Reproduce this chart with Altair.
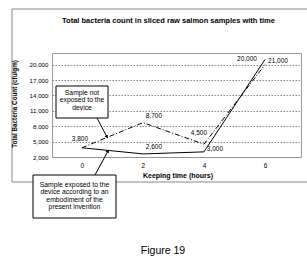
import altair as alt
import pandas as pd

# ---- data ----
hours = [0, 2, 4, 6]
not_exposed = [3800, 8700, 4500, 20000]
exposed = [3800, 2600, 3000, 21000]
y_ticks = [2000, 5000, 8000, 11000, 14000, 17000, 20000]
x_ticks = [0, 2, 4, 6]

title_text = "Total bacteria count in sliced raw salmon samples with time"
x_title = "Keeping time (hours)"
y_title = "Total Bacteria Count (cfu/gm)"
note1 = ["Sample not", "exposed to the", "device"]
note2 = ["Sample exposed to the", "device according to an",
         "embodiment of the", "present invention"]
caption = "Figure 19"

# label offsets (dx, dy) in pixels, style only
off_ne = [(-2, -9), (11, -7), (-5, -11), (-18, -6)]
off_e = [None, (11, -7), (11, -3), (13, 1)]

FONT = "Liberation Sans"
W, H = 249, 104

xscale = alt.Scale(domain=[-0.98, 7.18], nice=False, zero=False)
yscale = alt.Scale(domain=[2000, 22280], nice=False, zero=False)

df_ne = pd.DataFrame({"hour": hours, "value": not_exposed})
df_e = pd.DataFrame({"hour": hours, "value": exposed})

xaxis = alt.Axis(values=x_ticks, grid=False, ticks=False, domain=False,
                 labelPadding=5, title=None, labelFontSize=6.5,
                 labelFont=FONT, labelColor="black")
yaxis = alt.Axis(values=y_ticks, format=",.0f", grid=True, gridDash=[1.5, 1.5],
                 gridColor="#888", ticks=False, domain=False, labelPadding=4,
                 title=None, labelFontSize=6.2, labelFont=FONT,
                 labelColor="black", labelOverlap=False)

def xenc():
    return alt.X("hour:Q", scale=xscale, axis=xaxis)

def yenc():
    return alt.Y("value:Q", scale=yscale, axis=yaxis)

line_ne = alt.Chart(df_ne).mark_line(color="black", strokeWidth=1,
                                     strokeDash=[5, 2, 1, 2]).encode(x=xenc(), y=yenc())
line_e = alt.Chart(df_e).mark_line(color="black", strokeWidth=1).encode(x=xenc(), y=yenc())

layers = []

# outer frame
one = pd.DataFrame({"a": [0]})
frame = alt.Chart(one).mark_rect(fillOpacity=0, stroke="#888", strokeWidth=1).encode(
    x=alt.value(-40), x2=alt.value(280), y=alt.value(-44), y2=alt.value(129))
layers += [line_ne, line_e, frame]

# data labels
def labels(df, offs):
    out = []
    for i, o in enumerate(offs):
        if o is None:
            continue
        d = df.iloc[[i]].copy()
        d["txt"] = [f"{v:,}" for v in d["value"]]
        out.append(alt.Chart(d).mark_text(dx=o[0], dy=o[1], font=FONT, fontSize=6.5,
                                          color="black").encode(
            x=xenc(), y=yenc(), text="txt:N"))
    return out

layers += labels(df_ne, off_ne)
layers += labels(df_e, off_e)

def text_at(t, x, y, size, bold=False, angle=0):
    return alt.Chart(pd.DataFrame({"t": [t]})).mark_text(
        font=FONT, fontSize=size, fontWeight="bold" if bold else "normal",
        color="black", angle=angle, baseline="middle", align="center").encode(
        x=alt.value(x), y=alt.value(y), text="t:N")

layers.append(text_at(title_text, 116.5, -32, 7.5, bold=True))
layers.append(text_at(x_title, 126, 123, 7, bold=True))
layers.append(text_at(y_title, -37, 51, 6.3, bold=True, angle=270))
layers.append(text_at(caption, 111, 198, 10.5))

# annotation boxes
def box(x1, x2, y1, y2):
    return alt.Chart(one).mark_rect(fill="white", stroke="black", strokeWidth=1).encode(
        x=alt.value(x1), x2=alt.value(x2), y=alt.value(y1), y2=alt.value(y2))

def arrow(x1, y1, x2, y2, ang):
    r = alt.Chart(one).mark_rule(color="black", strokeWidth=1).encode(
        x=alt.value(x1), y=alt.value(y1), x2=alt.value(x2), y2=alt.value(y2))
    p = alt.Chart(one).mark_point(shape="triangle-up", filled=True, color="black",
                                  size=14, angle=ang, opacity=1).encode(
        x=alt.value(x2), y=alt.value(y2))
    return [r, p]

layers.append(box(4, 56, 33, 65))
for i, t in enumerate(note1):
    layers.append(text_at(t, 30, 39.5 + 7.5 * i, 6.8))
layers += arrow(45, 65, 55, 84, 151)

layers.append(box(-19, 64, 122, 165))
for i, t in enumerate(note2):
    layers.append(text_at(t, 22.5, 132 + 7.3 * i, 6.8))
layers += arrow(43, 122, 56, 98, 27)

chart = alt.layer(*layers).properties(
    width=W, height=H,
    autosize=alt.AutoSizeParams(type="none"),
    padding={"left": 52, "top": 53, "right": 6, "bottom": 108},
    background="white",
).configure_view(stroke="#999", strokeWidth=1, fill="white")

chart.save("out.html", embed_options={"renderer": "svg", "actions": False})
